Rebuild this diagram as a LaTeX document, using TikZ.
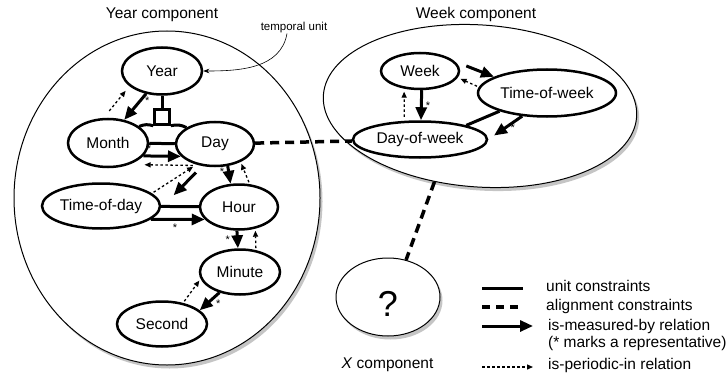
\documentclass[tikz,border=0pt]{standalone}
\usepackage{fontspec}
\setmainfont{Liberation Sans}
\usetikzlibrary{shapes.geometric,arrows.meta,shadows}

\begin{document}
\begin{tikzpicture}
[every node/.style={inner sep=0pt},
 unit/.style={ellipse, line width=2.5pt, draw=black, fill=white, font=\fontsize{15.5}{18}\selectfont},
 comp/.style={ellipse, line width=1pt, draw=black, fill=white, drop shadow={shadow xshift=2.5pt, shadow yshift=-3.5pt, fill=black!45, opacity=0.5}},
 caption/.style={font=\fontsize{15.5}{18}\selectfont, text height=11pt, text depth=3pt},
 rep/.style={font=\fontsize{11}{11}\selectfont},
 ucons/.style={line width=3pt},
 acons/.style={line width=3.5pt, dash pattern=on 9pt off 6pt},
 measured/.style={line width=3pt, -{Triangle[length=13pt,width=11pt]}},
 periodic/.style={line width=1.3pt, dash pattern=on 2.5pt off 2.5pt, -{Triangle[length=6pt,width=5pt]}}]
\useasboundingbox (0pt,0pt) rectangle (727pt,-377pt);
% components
\node (yearcomp) [comp, minimum width=306pt, minimum height=334pt] at (167pt, -198pt) {};
\node (weekcomp) [comp, minimum width=314pt, minimum height=162pt, rotate=-4] at (480pt, -106pt) {};
\node (xcomp) [comp, minimum width=104pt, minimum height=78pt, font=\fontsize{36}{40}\selectfont, text height=39pt, text depth=0pt] at (388pt, -297pt) {?};
\node (yearlbl) [caption] at (162pt, -14.5pt) {Year component};
\node (weeklbl) [caption] at (476pt, -14.5pt) {Week component};
\node (xlbl) [caption] at (387.5pt, -364pt) {\textit{X} component};
\node (tunit) [font=\fontsize{11.5}{13}\selectfont] at (294pt, -28pt) {temporal unit};
% units
\node (year) [unit, minimum width=80pt, minimum height=47pt] at (162pt, -71pt) {Year};
\node (month) [unit, minimum width=80pt, minimum height=48pt] at (108pt, -143pt) {Month};
\node (day) [unit, minimum width=78pt, minimum height=44pt] at (215pt, -144pt) {Day};
\node (tod) [unit, minimum width=118pt, minimum height=45pt] at (101pt, -206pt) {Time-of-day};
\node (hour) [unit, minimum width=78pt, minimum height=45pt] at (239pt, -207pt) {Hour};
\node (minute) [unit, minimum width=80pt, minimum height=45pt] at (240pt, -272pt) {Minute};
\node (second) [unit, minimum width=90pt, minimum height=45pt] at (162pt, -324pt) {Second};
\node (week) [unit, minimum width=78pt, minimum height=36pt] at (420pt, -71pt) {Week};
\node (tow) [unit, minimum width=138pt, minimum height=47pt] at (547pt, -93pt) {Time-of-week};
\node (dow) [unit, minimum width=134pt, minimum height=36pt] at (420pt, -139.5pt) {Day-of-week};
\node (sq) [rectangle, draw=black, line width=2.5pt, fill=white, minimum size=15pt] at (162pt, -117pt) {};
% unit constraints
\draw [ucons] (year) -- (sq);
\draw [ucons] (sq.south west) to [bend right=20] (month.28);
\draw [ucons] (sq.south east) to [bend left=20] (day.150);
\draw [ucons] (month) -- (day);
\draw [ucons] (tod) -- (hour);
\draw [ucons] (tow.201) -- (dow.17);
% alignment constraints
\draw [acons] (day) -- (dow);
\draw [acons] (weekcomp.243) -- (xcomp.64);
% is-measured-by
\draw [measured] (year.235) -- (month.55) node [rep, pos=0.25, right=3pt] {*};
\draw [measured] (month.-20) -- (day.200) node [rep, pos=0.15, above=2pt] {*};
\draw [measured, shorten <=9pt, shorten >=18pt] (day.240) -- (tod.-2);
\draw [measured] (day.-60) -- (hour.110) node [rep, pos=0.3, left=3pt] {*};
\draw [measured] (tod.-15) -- (hour.200) node [rep, pos=0.45, below=3pt] {*};
\draw [measured] (hour.-95) -- (minute.95) node [rep, midway, left=6pt] {*};
\draw [measured] (minute.225) -- (second.20) node [rep, pos=0.3, below right=1pt] {*};
\draw [measured] (week.-85) -- (dow.87) node [rep, midway, right=3pt] {*};
\draw [measured, shorten <=12pt] (week.15) -- (tow.163);
\draw [measured, shorten >=7pt] (tow.-137) -- (dow.east) node [rep, pos=0.5, right=4pt] {*};
% is-periodic-in
\draw [periodic, shorten <=9pt, shorten >=6pt] (month.100) -- (year.205);
\draw [periodic, shorten <=7pt, shorten >=15pt] (day.235) -- (month.-45);
\draw [periodic, shorten <=2pt, shorten >=4pt] (tod.14) -- (day.228);
\draw [periodic, shorten <=2pt, shorten >=2pt] (hour.65) -- (day.-35);
\draw [periodic, shorten <=2pt, shorten >=2pt] (minute.54) -- (hour.-53);
\draw [periodic, shorten <=2pt, shorten >=2pt] (second.45) -- (minute.190);
\draw [periodic, shorten <=4pt, shorten >=3pt] (dow.130) -- (week.228);
\draw [periodic, shorten <=2pt, shorten >=3pt] (tow.175) -- (week.-10);
% temporal unit pointer
\draw [line width=0.6pt, -{Stealth[length=6pt,width=4.5pt]}] ([xshift=-7pt]tunit.south) to [out=-100, in=0] (year.east);
% legend
\coordinate (lg1a) at (482pt, -288pt);
\coordinate (lg1b) at (523pt, -288pt);
\coordinate (lg2a) at (482pt, -307pt);
\coordinate (lg2b) at (520pt, -307pt);
\coordinate (lg3a) at (482pt, -326pt);
\coordinate (lg3b) at (533pt, -326pt);
\coordinate (lg4a) at (482pt, -367pt);
\coordinate (lg4b) at (533pt, -367pt);
\node (ltext1) [caption, anchor=west] at (546pt, -287pt) {unit constraints};
\node (ltext2) [caption, anchor=west] at (546pt, -306pt) {alignment constraints};
\node (ltext3) [caption, anchor=west] at (548pt, -326pt) {is-measured-by relation};
\node (ltext4) [caption, anchor=west] at (548pt, -343pt) {(* marks a representative)};
\node (ltext5) [caption, anchor=west] at (548pt, -365pt) {is-periodic-in relation};
\draw [ucons] (lg1a) -- (lg1b);
\draw [line width=3.5pt, dash pattern=on 8pt off 6pt] (lg2a) -- (lg2b);
\draw [measured] (lg3a) -- (lg3b);
\draw [periodic] (lg4a) -- (lg4b);
\end{tikzpicture}
\end{document}
